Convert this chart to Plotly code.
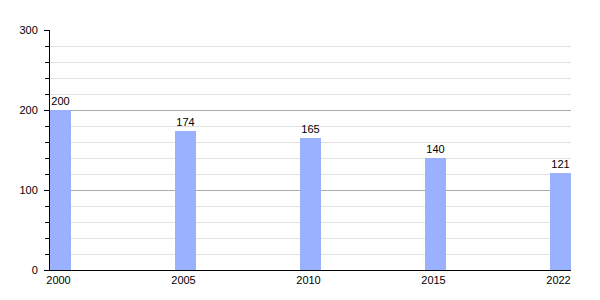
import plotly.graph_objects as go

years = ["2000", "2005", "2010", "2015", "2022"]
values = [200, 174, 165, 140, 121]

fig = go.Figure(
    go.Bar(
        x=years,
        y=values,
        width=0.168,
        marker=dict(color="#99b1ff", line=dict(width=0)),
        text=[str(v) for v in values],
        textposition="outside",
        textfont=dict(size=11, color="black"),
        cliponaxis=False,
    )
)

fig.update_layout(
    width=600,
    height=300,
    margin=dict(l=50, r=29, t=30, b=30),
    paper_bgcolor="white",
    plot_bgcolor="white",
    font=dict(family="Liberation Sans, Arial, sans-serif", size=11, color="black"),
    showlegend=False,
    bargap=0,
)

fig.update_xaxes(
    type="category",
    range=[-0.084, 4.084],
    showline=True,
    linecolor="black",
    linewidth=1,
    ticks="",
    showgrid=False,
    tickfont=dict(size=11),
    ticklabelshift=-2,
)

fig.update_yaxes(
    range=[0, 300],
    tickvals=[0, 100, 200, 300],
    showline=True,
    linecolor="black",
    linewidth=1,
    ticks="outside",
    ticklen=5,
    tickcolor="black",
    ticklabelstandoff=4,
    showgrid=True,
    gridcolor="#aaaaaa",
    gridwidth=1,
    zeroline=False,
    minor=dict(
        dtick=20,
        showgrid=True,
        gridcolor="#e2e2e2",
        gridwidth=1,
        ticks="outside",
        ticklen=4,
        tickcolor="black",
    ),
    tickfont=dict(size=11),
)

fig.write_html("out.html")
